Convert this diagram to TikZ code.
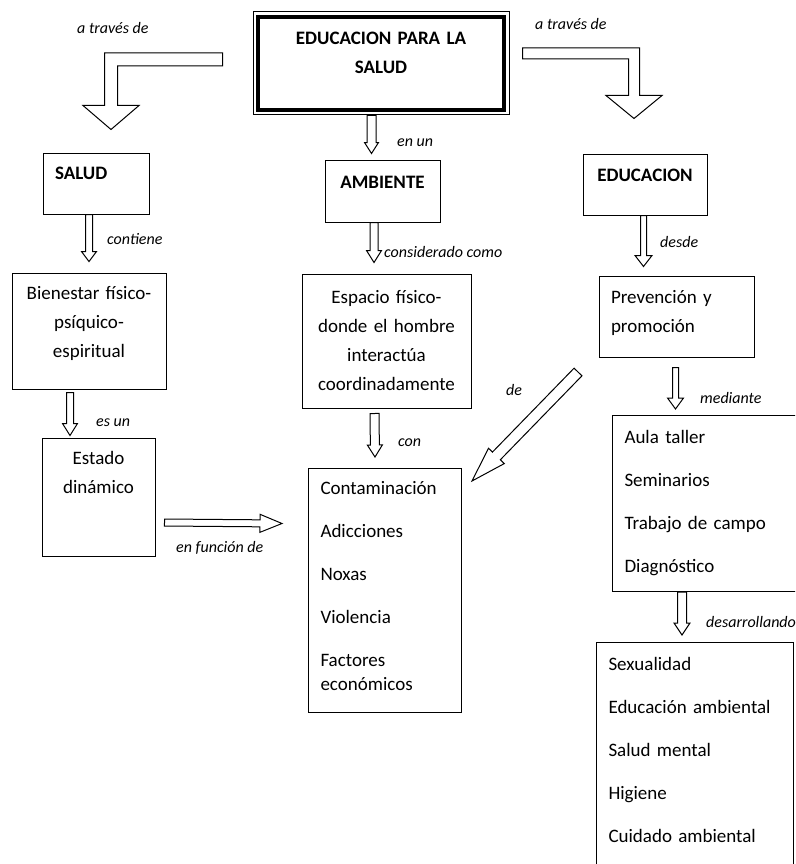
\documentclass[tikz,border=0pt]{standalone}
\usepackage{fontspec}
\setmainfont{Carlito}
\usetikzlibrary{calc}

\begin{document}
\begin{tikzpicture}[x=1pt, y=-1pt]

\tikzset{
    box/.style={
        draw,
        rectangle,
        line width=1pt,
        inner xsep=12pt,
        font=\fontsize{19}{29}\selectfont
    },
    head/.style={box, font=\fontsize{19}{29}\selectfont\bfseries},
    listbox/.style={box, anchor=north west, align=left, font=\fontsize{19}{24}\selectfont},
    lbl/.style={anchor=west, inner sep=0pt, font=\fontsize{16}{19}\selectfont\itshape},
    fat arrow/.style n args={3}{
        draw, fill=white, line width=1pt, line join=miter,
        to path={let \p1=(\tikztostart), \p2=(\tikztotarget),
            \n1={veclen(\x2-\x1,\y2-\y1)},
            \n2={(\x2-\x1)/\n1}, \n3={(\y2-\y1)/\n1} in
            ({\x1-(\n3)*#1},{\y1+(\n2)*#1})
            -- ({\x2-(\n2)*#3-(\n3)*#1},{\y2-(\n3)*#3+(\n2)*#1})
            -- ({\x2-(\n2)*#3-(\n3)*#2},{\y2-(\n3)*#3+(\n2)*#2})
            -- (\p2)
            -- ({\x2-(\n2)*#3+(\n3)*#2},{\y2-(\n3)*#3-(\n2)*#2})
            -- ({\x2-(\n2)*#3+(\n3)*#1},{\y2-(\n3)*#3-(\n2)*#1})
            -- ({\x1+(\n3)*#1},{\y1-(\n2)*#1}) -- cycle}
    },
    bent arrow/.style n args={3}{
        draw, fill=white, line width=1pt, line join=miter,
        to path={let \p1=(\tikztostart), \p2=(\tikztotarget),
            \n1={sign(\x2-\x1)} in
            (\x1,{\y1+#1}) -- ({\x2+(\n1)*#1},{\y1+#1})
            -- ({\x2+(\n1)*#1},{\y2+#3}) -- ({\x2+(\n1)*#2},{\y2+#3})
            -- (\p2)
            -- ({\x2-(\n1)*#2},{\y2+#3}) -- ({\x2-(\n1)*#1},{\y2+#3})
            -- ({\x2-(\n1)*#1},{\y1-#1}) -- (\x1,{\y1-#1}) -- cycle}
    }
}

\useasboundingbox (0,0) rectangle (795,864);
\clip (0,0) rectangle (795,864);

% top
\node[head, minimum width=256pt, minimum height=103pt, text width=232pt, align=center, text depth=51pt] (main) at (381,63.5) {EDUCACION PARA LA\\SALUD};
\draw[line width=4pt] ([shift={(5.5pt,-5.5pt)}]main.north west) rectangle ([shift={(-5.5pt,5.5pt)}]main.south east);

\node[head, minimum width=106pt, minimum height=61pt, text width=82pt, align=left, text depth=20pt] (salud) at (96,183.5) {SALUD};
\node[head, minimum width=115pt, minimum height=62pt, text depth=18pt] (ambiente) at (382.5,191) {AMBIENTE};
\node[head, minimum width=124pt, minimum height=61pt, text depth=19pt] (educ) at (645,184.5) {EDUCACION};

% second row
\node[box, minimum width=154pt, minimum height=116pt, text width=130pt, align=center, text depth=76pt] (bien) at (89,331) {Bienestar físico-\\psíquico-\\espiritual};
\node[box, minimum width=169pt, minimum height=134pt, text width=145pt, align=center] (espacio) at (386.5,341) {Espacio físico-\\donde el hombre\\interactúa\\coordinadamente};
\node[box, minimum width=155pt, minimum height=81pt, text width=131pt, align=left, text depth=39pt] (prev) at (676.5,316.5) {Prevención y\\promoción};

% third row
\node[box, minimum width=113pt, minimum height=118pt, text width=89pt, align=center, text depth=78pt] (estado) at (98.5,497) {Estado\\dinámico};
\node[listbox, minimum width=153pt, minimum height=244pt, text width=129pt, text depth=205pt] (contam) at (308,468) {Contaminación\\[19pt]Adicciones\\[19pt]Noxas\\[19pt]Violencia\\[19pt]Factores\\económicos};
\node[listbox, minimum width=200pt, minimum height=176pt, text width=176pt] (aula) at (612,415) {Aula taller\\[19pt]Seminarios\\[19pt]Trabajo de campo\\[19pt]Diagnóstico};
\node[listbox, minimum width=197pt, minimum height=240pt, text width=173pt, text depth=198pt] (sex) at (596,642) {Sexualidad\\[19pt]Educación ambiental\\[19pt]Salud mental\\[19pt]Higiene\\[19pt]Cuidado ambiental};

% arrows
\draw[bent arrow={6.5pt}{28pt}{24pt}] ([xshift=-30pt,yshift=4pt]main.west) to ([xshift=15pt,yshift=23pt]salud.north);
\draw[bent arrow={5.5pt}{28pt}{23pt}] ([xshift=13pt,yshift=10pt]main.east) to ([xshift=-11pt,yshift=35pt]educ.north);
\draw[fat arrow={4.5pt}{7pt}{11pt}] ([xshift=-9.5pt]main.south) to ([xshift=-11pt,yshift=6pt]ambiente.north);
\draw[fat arrow={3.5pt}{7.5pt}{10pt}] ([xshift=-7pt]salud.south) to ([yshift=11pt]bien.north);
\draw[fat arrow={3.5pt}{7.5pt}{12pt}] ([xshift=-19pt,yshift=-3pt]bien.south) to ([xshift=-28.5pt,yshift=2pt]estado.north);
\draw[fat arrow={4pt}{7.5pt}{12pt}] ([xshift=-8.5pt]ambiente.south) to ([xshift=-12.5pt,yshift=11pt]espacio.north);
\draw[fat arrow={4.5pt}{7.5pt}{12pt}] ([xshift=-12pt,yshift=-5pt]espacio.south) to ([xshift=-10pt,yshift=11pt]contam.north);
\draw[fat arrow={3pt}{8.5pt}{11pt}] ([xshift=-1.5pt]educ.south) to ([xshift=-33pt,yshift=9pt]prev.north);
\draw[fat arrow={3pt}{8pt}{11pt}] ([xshift=-1pt,yshift=-10pt]prev.south) to ([xshift=63.5pt,yshift=6pt]aula.north west);
\draw[fat arrow={4.5pt}{8pt}{12pt}] ([xshift=70pt]aula.south west) to ([xshift=86pt,yshift=7pt]sex.north west);
\draw[fat arrow={3.5pt}{9pt}{22pt}] ([xshift=9pt,yshift=-25.5pt]estado.east) to ([xshift=-26pt,yshift=67pt]contam.west);
\draw[fat arrow={5.5pt}{11pt}{35pt}] ([xshift=-20.5pt,yshift=-14.5pt]prev.south west) to ([xshift=10pt,yshift=-13pt]contam.north east);

% labels
\node[lbl] (via1) at (77,28) {a través de};
\node[lbl] (via2) at (535,24) {a través de};
\node[lbl] (enun) at (397,143) {en un};
\node[lbl] (contiene) at (107,239) {contiene};
\node[lbl] (esun) at (96,423) {es un};
\node[lbl] (como) at (384,252) {considerado como};
\node[lbl] (con) at (398,443) {con};
\node[lbl] (desde) at (660,242) {desde};
\node[lbl] (de) at (506,390) {de};
\node[lbl] (mediante) at (700,398) {mediante};
\node[lbl] (funcion) at (176,548) {en función de};
\node[lbl] (desarr) at (706,622) {desarrollando};
    %
\end{tikzpicture}
\end{document}
